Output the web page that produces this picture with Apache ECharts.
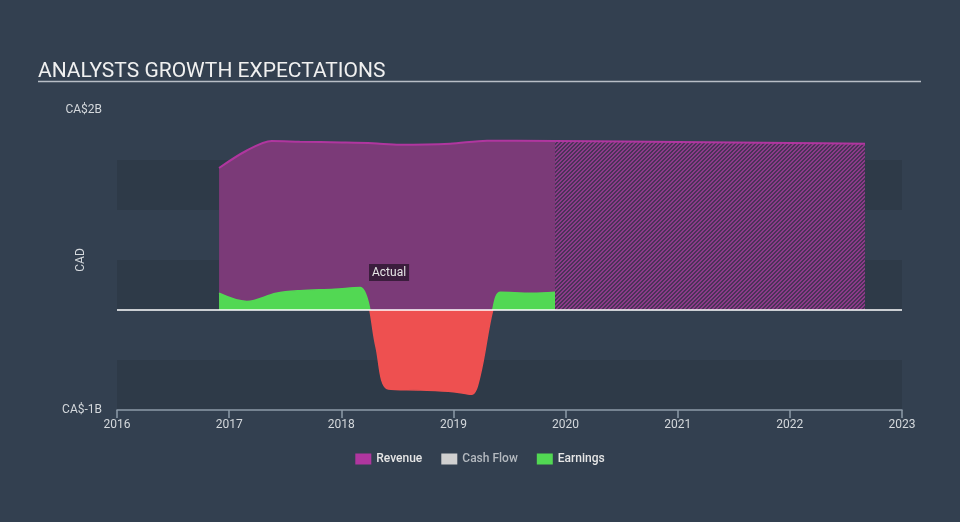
<!DOCTYPE html>
<html>
<head>
<meta charset="utf-8">
<script src="https://cdn.jsdelivr.net/npm/echarts@6/dist/echarts.min.js"></script>
<style>
html,body{margin:0;padding:0;background:#334050;}
#c{width:960px;height:522px;}
</style>
</head>
<body>
<div id="c"></div>
<script>
// ---- data (year, CA$ billions) ----
const revenueActual = [
  [2016.91, 1.42], [2017.15, 1.59], [2017.38, 1.69], [2017.63, 1.683],
  [2018.00, 1.675], [2018.28, 1.667], [2018.52, 1.653], [2018.97, 1.663],
  [2019.30, 1.693], [2019.906, 1.69]
];
const revenueForecast = [
  [2019.906, 1.69], [2020.50, 1.685], [2021.00, 1.68], [2021.50, 1.675],
  [2022.00, 1.67], [2022.67, 1.663]
];
const cashFlow = [];
const earnings = [
  [2016.91, 0.167], [2017.157, 0.085], [2017.42, 0.167], [2017.63, 0.193],
  [2017.94, 0.207], [2018.17, 0.225], [2018.22, 0.15], [2018.255, 0.0],
  [2018.31, -0.37], [2018.42, -0.79], [2018.71, -0.80], [2019.00, -0.817],
  [2019.16, -0.843], [2019.235, -0.667], [2019.35, 0.0], [2019.42, 0.177],
  [2019.70, 0.167], [2019.906, 0.177]
];
const yTickLabels = {'2': 'CA$2B', '-1': 'CA$-1B'};

// hatch pattern for forecast area
const pat = document.createElement('canvas');
pat.width = 4; pat.height = 4;
const pctx = pat.getContext('2d');
for (let x = 0; x < 4; x++) {
  for (let y = 0; y < 4; y++) {
    pctx.fillStyle = ((x + y) % 4 < 2) ? '#8c3a89' : '#4a3357';
    pctx.fillRect(x, y, 1, 1);
  }
}

const chart = echarts.init(document.getElementById('c'));
const FONT = 'Roboto';
chart.setOption({
  backgroundColor: '#334050',
  animation: false,
  textStyle: {fontFamily: FONT},
  title: {
    text: 'ANALYSTS GROWTH EXPECTATIONS',
    left: 33, top: 56,
    textStyle: {color: '#f0f0f0', fontSize: 21, fontWeight: 'normal', fontFamily: FONT}
  },
  graphic: [
    {type: 'line', shape: {x1: 38, y1: 81.5, x2: 921, y2: 81.5},
     style: {stroke: '#b8bec6', lineWidth: 1.5}, z: 10},
    {type: 'text', left: 369, top: 264, z: 100,
     style: {text: 'Actual', fill: '#e6e6e6', font: '12px Roboto',
             backgroundColor: '#3b1d3d', padding: [3, 3, 2, 3]}}
  ],
  legend: {
    data: [
      {name: 'Revenue', textStyle: {color: '#e6e6e6'}},
      {name: 'Cash Flow', textStyle: {color: '#b4b9bf'}},
      {name: 'Earnings', textStyle: {color: '#e6e6e6'}}
    ],
    left: 'center', top: 448,
    icon: 'rect', itemWidth: 16, itemHeight: 11, itemGap: 19,
    textStyle: {fontSize: 12, fontFamily: FONT, fontWeight: 500},
    selectedMode: false
  },
  grid: {left: 117, right: 58, top: 110, bottom: 112},
  xAxis: {
    type: 'value', min: 2016, max: 2023, interval: 1,
    axisLine: {onZero: false, lineStyle: {color: '#8d9aa8', width: 1.5}},
    axisTick: {show: true, length: 8, lineStyle: {color: '#8d9aa8', width: 1.5}},
    axisLabel: {color: '#d4d8dc', fontSize: 12, margin: 9, formatter: v => String(v)},
    splitLine: {show: false}
  },
  yAxis: {
    type: 'value', min: -1, max: 2, interval: 0.5,
    name: 'CAD', nameLocation: 'middle', nameGap: 30, nameMoveOverlap: false,
    nameTextStyle: {color: '#d4d8dc', fontSize: 12},
    axisLine: {show: false}, axisTick: {show: false},
    axisLabel: {
      color: '#d4d8dc', fontSize: 12, margin: 15,
      formatter: v => yTickLabels[String(v)] || ''
    },
    splitLine: {show: false},
    splitArea: {show: true, areaStyle: {color: ['#2e3a48', 'rgba(0,0,0,0)']}}
  },
  visualMap: {
    show: false, type: 'piecewise', seriesIndex: 3, dimension: 1,
    pieces: [{gt: -10, lt: 0, color: '#ee5050'}, {gte: 0, lte: 10, color: '#52d853'}]
  },
  series: [
    {
      name: 'Revenue', type: 'line', data: revenueActual, smooth: 0.3,
      showSymbol: false, color: '#b0369f',
      lineStyle: {color: '#b0369f', width: 2},
      areaStyle: {color: '#7b3a78', opacity: 1}, z: 2
    },
    {
      name: 'Revenue', type: 'line', data: revenueForecast, smooth: 0.3,
      showSymbol: false, color: '#b0369f',
      lineStyle: {color: '#b0369f', width: 2},
      areaStyle: {color: {image: pat, repeat: 'repeat'}, opacity: 1}, z: 2
    },
    {
      name: 'Cash Flow', type: 'line', data: cashFlow, color: '#d0d0d0', showSymbol: false
    },
    {
      name: 'Earnings', type: 'line', data: earnings, smooth: 0.35,
      showSymbol: false, color: '#52d853',
      lineStyle: {width: 1.5},
      areaStyle: {opacity: 1}, z: 3,
      markLine: {
        silent: true, symbol: 'none', label: {show: false},
        lineStyle: {color: '#ffffff', width: 1.5, type: 'solid'},
        data: [{yAxis: 0}], z: 5
      }
    }
  ]
});
</script>
</body>
</html>
